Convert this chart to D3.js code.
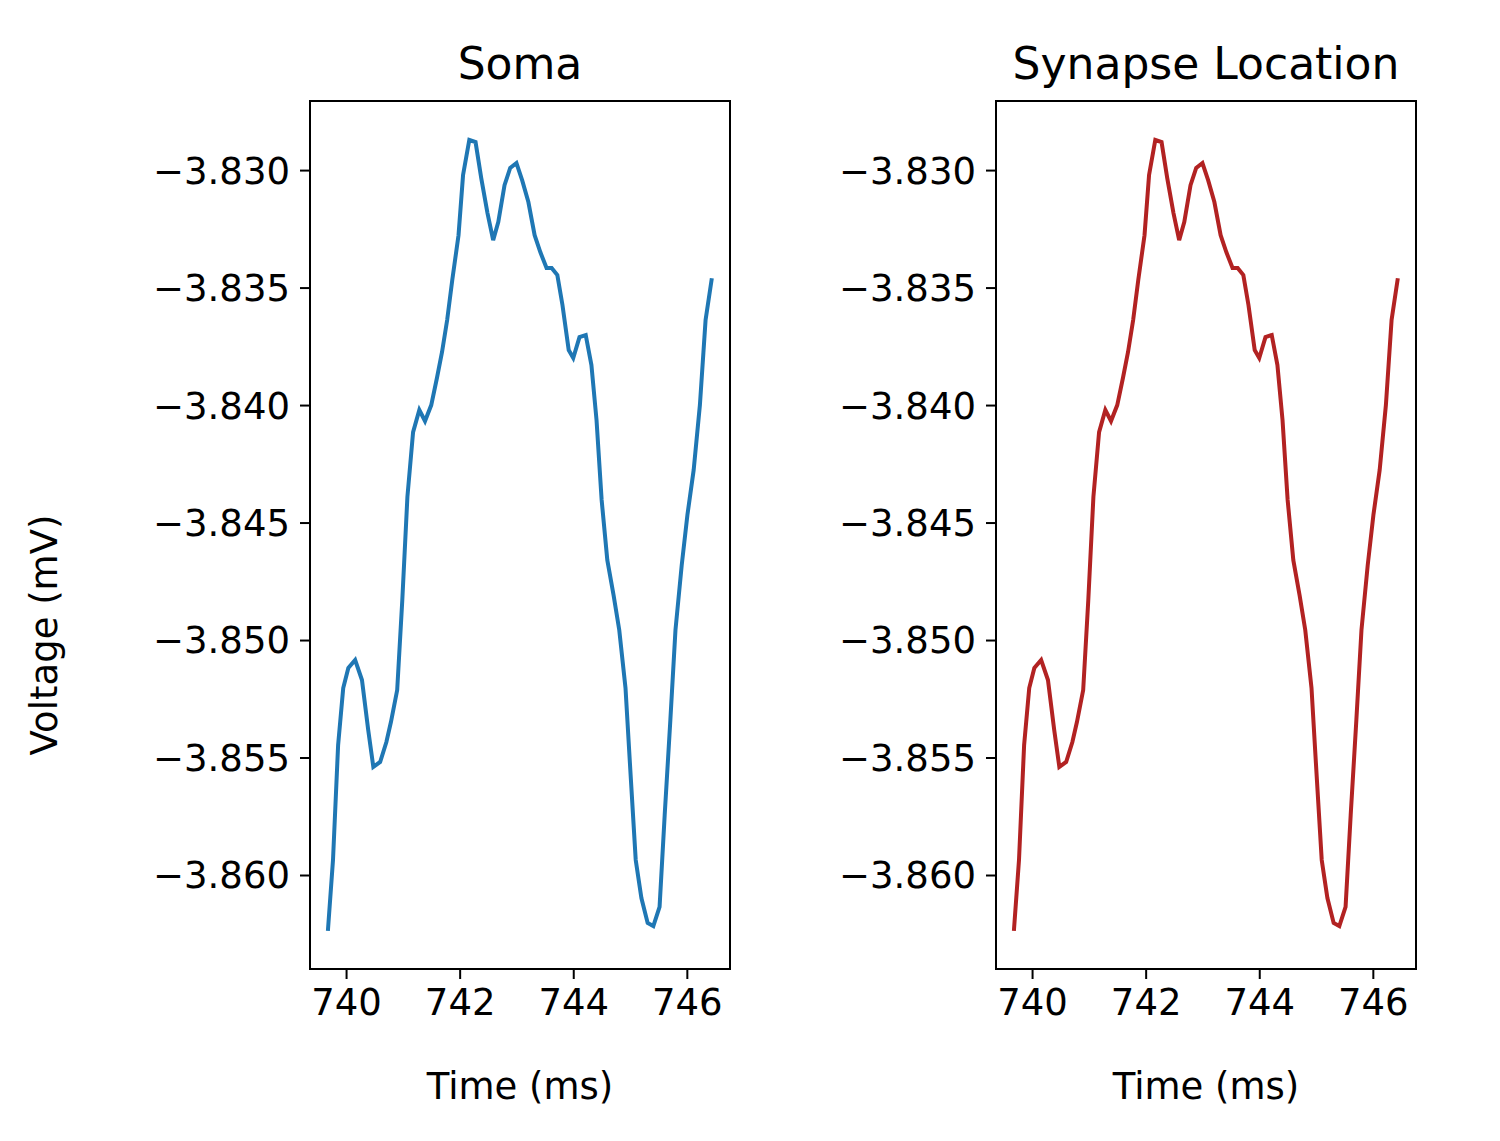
<!DOCTYPE html>
<html>
<head>
<meta charset="utf-8">
<script src="https://cdn.jsdelivr.net/npm/d3@7"></script>
<style>
  body { margin: 0; background: #fff; }
  text { font-family: "DejaVu Sans", sans-serif; }
</style>
</head>
<body>
<div id="chart"></div>
<script>
// Data
const times = [
  739.68, 739.77, 739.86, 739.95, 740.04, 740.16, 740.28, 740.39, 740.48, 740.60,
  740.71, 740.79, 740.90, 740.99, 741.08, 741.18, 741.29, 741.39, 741.50, 741.60,
  741.69, 741.78, 741.87, 741.98, 742.06, 742.17, 742.28, 742.38, 742.49, 742.59,
  742.68, 742.79, 742.89, 743.00, 743.10, 743.21, 743.32, 743.42, 743.53, 743.62,
  743.72, 743.81, 743.92, 744.00, 744.11, 744.22, 744.32, 744.41, 744.50, 744.60,
  744.71, 744.81, 744.92, 745.01, 745.10, 745.20, 745.31, 745.41, 745.52, 745.61,
  745.71, 745.80, 745.91, 746.01, 746.12, 746.23, 746.33, 746.44
];
const voltage = [
  -3.86238, -3.85936, -3.85447, -3.85204, -3.85119, -3.85085, -3.85170, -3.85383, -3.85540, -3.85519,
  -3.85434, -3.85349, -3.85213, -3.84830, -3.84391, -3.84115, -3.84021, -3.84068, -3.84000, -3.83885,
  -3.83774, -3.83638, -3.83468, -3.83277, -3.83021, -3.82872, -3.82881, -3.83034, -3.83183, -3.83298,
  -3.83221, -3.83064, -3.82991, -3.82970, -3.83043, -3.83136, -3.83277, -3.83349, -3.83417, -3.83417,
  -3.83447, -3.83574, -3.83766, -3.83800, -3.83711, -3.83702, -3.83830, -3.84064, -3.84404, -3.84660,
  -3.84809, -3.84957, -3.85204, -3.85574, -3.85936, -3.86098, -3.86204, -3.86217, -3.86136, -3.85745,
  -3.85340, -3.84957, -3.84681, -3.84468, -3.84277, -3.84000, -3.83638, -3.83460
];
const xTicks = [740, 742, 744, 746];
const yTicks = [-3.830, -3.835, -3.840, -3.845, -3.850, -3.855, -3.860];
const panels = [
  { title: "Soma", color: "#1f77b4", left: 310 },
  { title: "Synapse Location", color: "#b22222", left: 996 }
];

const width = 1500, height = 1141;
const plotTop = 101, plotH = 868, plotW = 420;

const svg = d3.select("#chart").append("svg")
  .attr("width", width)
  .attr("height", height);

const data = times.map((t, i) => [t, voltage[i]]);

panels.forEach((p, idx) => {
  const g = svg.append("g").attr("transform", `translate(${p.left},${plotTop})`);

  const x = d3.scaleLinear().domain([739.365, 746.76]).range([0, plotW]);
  const y = d3.scaleLinear().domain([-3.864, -3.82706]).range([plotH, 0]);

  const xAxis = g.append("g")
    .attr("transform", `translate(0,${plotH})`)
    .call(d3.axisBottom(x).tickValues(xTicks).tickSize(10).tickPadding(10).tickFormat(d3.format("d")));
  const yAxis = g.append("g")
    .call(d3.axisLeft(y).tickValues(yTicks).tickSize(10).tickPadding(10).tickFormat(d3.format(".3f")));

  [xAxis, yAxis].forEach(a => {
    a.selectAll("text").style("font-size", "37px").attr("fill", "#000");
    a.selectAll("line").attr("stroke-width", 2).attr("stroke", "#000");
    a.select(".domain").remove();
  });
  yAxis.selectAll("text").attr("dy", "0.35em");

  g.append("rect")
    .attr("width", plotW).attr("height", plotH)
    .attr("fill", "none").attr("stroke", "#000").attr("stroke-width", 2);

  g.append("path")
    .datum(data)
    .attr("fill", "none")
    .attr("stroke", p.color)
    .attr("stroke-width", 4)
    .attr("d", d3.line().x(d => x(d[0])).y(d => y(d[1])));

  g.append("text")
    .attr("x", plotW / 2).attr("y", -22)
    .attr("text-anchor", "middle")
    .style("font-size", "44px")
    .text(p.title);

  g.append("text")
    .attr("x", plotW / 2).attr("y", plotH + 130)
    .attr("text-anchor", "middle")
    .style("font-size", "37px")
    .text("Time (ms)");

  if (idx === 0) {
    g.append("text")
      .attr("transform", `translate(-253,${plotH / 2 + 100}) rotate(-90)`)
      .attr("text-anchor", "middle")
      .style("font-size", "37px")
      .text("Voltage (mV)");
  }
});
</script>
</body>
</html>
